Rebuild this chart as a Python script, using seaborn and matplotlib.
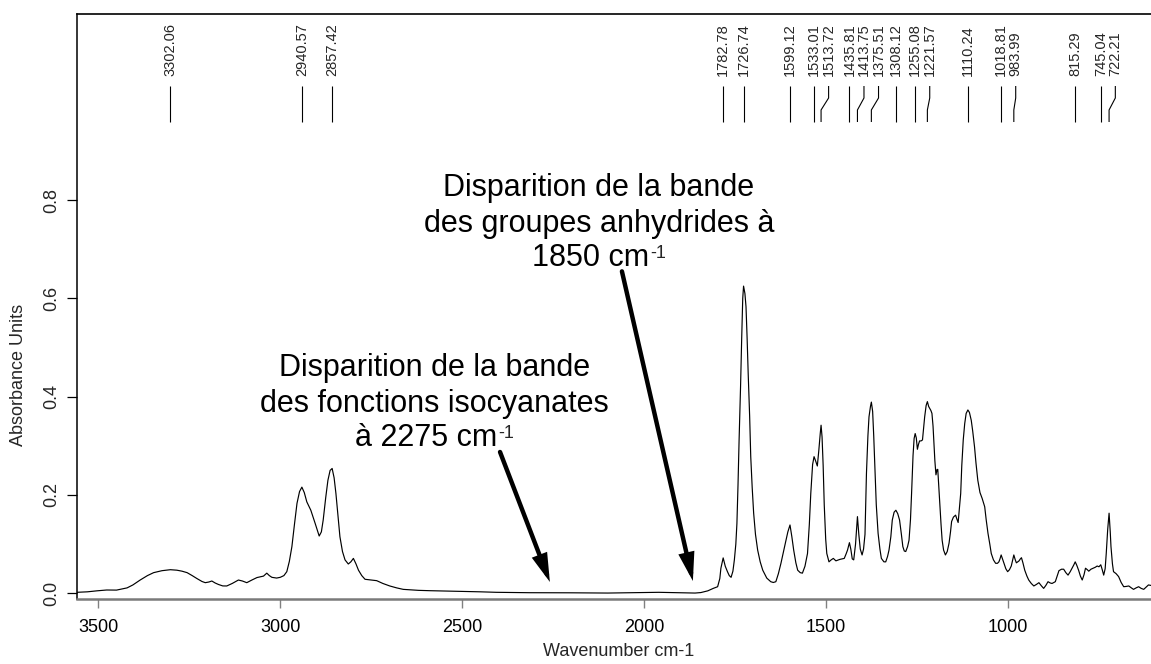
import numpy as np
import pandas as pd
import matplotlib
matplotlib.use("Agg")
import matplotlib.pyplot as plt
import seaborn as sns
from matplotlib.transforms import blended_transform_factory

# FTIR spectrum (wavenumber in cm-1, absorbance units), high to low wavenumber
wavenumber = [
    3559, 3530, 3504, 3477, 3450, 3421, 3405, 3385, 3365, 3348, 3325, 3302.06,
    3284, 3270, 3256, 3242, 3229, 3215, 3206, 3196, 3188, 3179, 3170, 3158,
    3147, 3132, 3115, 3104, 3092, 3078, 3064, 3052, 3046, 3037, 3030, 3023,
    3010, 3000, 2990, 2982, 2975, 2968, 2961, 2954, 2947, 2940.57, 2934, 2927,
    2916, 2904, 2893, 2887, 2882, 2875, 2869, 2863, 2857.42, 2852, 2847, 2841,
    2836, 2829, 2822, 2813, 2806, 2799, 2792, 2785, 2776, 2767, 2750, 2735,
    2718, 2699, 2680, 2662, 2620, 2589, 2540, 2497, 2450, 2406, 2314, 2200,
    2100, 2014, 1960, 1900, 1860, 1844, 1825, 1810, 1798, 1792, 1789, 1782.78,
    1777, 1771, 1766, 1761, 1756, 1752, 1748, 1745, 1742, 1739, 1735, 1732,
    1729, 1726.74, 1723, 1720, 1717, 1714, 1710, 1707, 1703, 1699, 1694, 1688,
    1681, 1674, 1663, 1652, 1645, 1638, 1631, 1624, 1617, 1611, 1605, 1599.12,
    1594, 1589, 1583, 1578, 1571, 1565, 1558, 1551, 1546, 1542, 1537, 1533.01,
    1529, 1524, 1520, 1516, 1513.72, 1511, 1508, 1505, 1501, 1498, 1492, 1486,
    1480, 1473, 1462, 1450, 1445, 1441, 1435.81, 1432, 1428, 1424, 1419,
    1413.75, 1410, 1406, 1401, 1397, 1393, 1389, 1385, 1382, 1378, 1375.51,
    1372, 1369, 1366, 1362, 1357, 1352, 1348, 1341, 1336, 1331, 1327, 1322,
    1318, 1313, 1308.12, 1303, 1298, 1293, 1289, 1285, 1281, 1276, 1272, 1268,
    1265, 1261, 1258, 1255.08, 1252, 1249, 1246, 1243, 1239, 1235, 1232, 1229,
    1225, 1221.57, 1218, 1215, 1212, 1209, 1206, 1204, 1201, 1198, 1195, 1193,
    1190, 1187, 1184, 1181, 1177, 1172, 1167, 1162, 1158, 1155, 1150, 1144,
    1140, 1137, 1134, 1130, 1127, 1123, 1119, 1115, 1110.24, 1106, 1101, 1097,
    1092, 1088, 1083, 1077, 1071, 1064, 1060, 1055, 1050, 1046, 1040, 1034,
    1029, 1025, 1022, 1018.81, 1015, 1011, 1006, 1001, 996, 991, 987, 983.99,
    980, 977, 973, 970, 966, 963, 959, 954, 948, 943, 936, 929, 922, 915, 908,
    902, 896, 890, 884, 879, 874, 870, 865, 860, 853, 847, 841, 835, 829, 824,
    819, 815.29, 811, 806, 801, 796, 791, 787, 782, 778, 772, 766, 760, 755,
    750, 745.04, 741, 737, 733, 730, 726, 722.21, 719, 717, 713, 710, 703, 696,
    689, 682, 675, 668, 661, 655, 648, 641, 634, 627, 620, 614, 607,
]
absorbance = [
    0.002, 0.003, 0.005, 0.0067, 0.0065, 0.011, 0.017, 0.027, 0.036, 0.042, 0.046, 0.048,
    0.047, 0.045, 0.042, 0.036, 0.030, 0.024, 0.0216, 0.023, 0.025, 0.021, 0.018, 0.015,
    0.0149, 0.020, 0.027, 0.025, 0.0216, 0.027, 0.032, 0.034, 0.035, 0.041, 0.036, 0.0325,
    0.031, 0.0325, 0.036, 0.044, 0.065, 0.095, 0.140, 0.183, 0.207, 0.216, 0.205, 0.186,
    0.169, 0.142, 0.1165, 0.125, 0.149, 0.195, 0.230, 0.250, 0.254, 0.235, 0.203, 0.155,
    0.115, 0.085, 0.068, 0.0596, 0.064, 0.071, 0.060, 0.047, 0.036, 0.0285, 0.027, 0.0257,
    0.020, 0.0149, 0.011, 0.008, 0.006, 0.0053, 0.0045, 0.004, 0.003, 0.002, 0.0012, 0.001,
    0.0005, 0.0015, 0.002, 0.001, 0.0005, 0.0015, 0.005, 0.010, 0.0134, 0.030, 0.051, 0.072,
    0.055, 0.044, 0.036, 0.0325, 0.045, 0.068, 0.100, 0.142, 0.220, 0.312, 0.420, 0.515,
    0.600, 0.625, 0.610, 0.583, 0.520, 0.447, 0.360, 0.278, 0.215, 0.163, 0.120, 0.088,
    0.064, 0.047, 0.031, 0.0236, 0.022, 0.0236, 0.040, 0.061, 0.085, 0.105, 0.125, 0.139,
    0.115, 0.088, 0.062, 0.047, 0.042, 0.041, 0.055, 0.081, 0.140, 0.203, 0.262, 0.278,
    0.270, 0.259, 0.290, 0.325, 0.342, 0.318, 0.260, 0.180, 0.110, 0.081, 0.064, 0.068,
    0.071, 0.066, 0.069, 0.071, 0.080, 0.088, 0.103, 0.090, 0.070, 0.068, 0.100,
    0.156, 0.120, 0.090, 0.078, 0.090, 0.120, 0.244, 0.320, 0.359, 0.380, 0.389,
    0.370, 0.320, 0.260, 0.180, 0.122, 0.090, 0.071, 0.064, 0.064, 0.075, 0.088, 0.115,
    0.149, 0.165, 0.169, 0.162, 0.149, 0.120, 0.095, 0.086, 0.085, 0.095, 0.108, 0.150,
    0.203, 0.280, 0.315, 0.325, 0.316, 0.293, 0.303, 0.310, 0.310, 0.312, 0.335, 0.359,
    0.382, 0.390, 0.380, 0.376, 0.372, 0.366, 0.340, 0.312, 0.270, 0.241, 0.252, 0.252,
    0.215, 0.176, 0.140, 0.108, 0.088, 0.078, 0.085, 0.102, 0.125, 0.146, 0.155, 0.159,
    0.150, 0.144, 0.170, 0.203, 0.260, 0.312, 0.345, 0.366, 0.373, 0.368, 0.352, 0.330,
    0.298, 0.265, 0.230, 0.205, 0.193, 0.176, 0.150, 0.122, 0.100, 0.081, 0.068, 0.061,
    0.061, 0.064, 0.070, 0.078, 0.070, 0.061, 0.050, 0.044, 0.048, 0.0555, 0.068, 0.078,
    0.068, 0.062, 0.064, 0.0657, 0.070, 0.0724, 0.062, 0.047, 0.035, 0.027, 0.020, 0.0149, 0.018, 0.0216, 0.015,
    0.010, 0.016, 0.0236, 0.021, 0.020, 0.022, 0.0236, 0.035, 0.046, 0.049, 0.049, 0.042, 0.037, 0.044, 0.051,
    0.058, 0.064, 0.057, 0.047, 0.035, 0.027, 0.038, 0.051, 0.048, 0.045, 0.049, 0.051, 0.053, 0.0555,
    0.054, 0.058, 0.048, 0.037, 0.050, 0.081, 0.130, 0.163, 0.125, 0.095, 0.060, 0.044, 0.040, 0.034,
    0.022, 0.0134, 0.014, 0.0149, 0.011, 0.008, 0.011, 0.0134, 0.010, 0.008, 0.013, 0.017, 0.016,
]

# Peak positions picked on the spectrum (cm-1)
peak_positions = [3302.06, 2940.57, 2857.42, 1782.78, 1726.74, 1599.12, 1533.01,
                  1513.72, 1435.81, 1413.75, 1375.51, 1308.12, 1255.08, 1221.57,
                  1110.24, 1018.81, 983.99, 815.29, 745.04, 722.21]

x_ticks = [3500, 3000, 2500, 2000, 1500, 1000]
y_ticks = [0.0, 0.2, 0.4, 0.6, 0.8]

sns.set_theme(style="ticks")
plt.rcParams["font.family"] = ["Liberation Sans", "DejaVu Sans"]

fig = plt.figure(figsize=(11.51, 6.64), dpi=100)
ax = fig.add_axes([0.06664, 0.09834, 0.93336, 0.88012])

df = pd.DataFrame({"wavenumber": wavenumber, "absorbance": absorbance})
sns.lineplot(data=df, x="wavenumber", y="absorbance", ax=ax, color="black",
             linewidth=0.85, estimator=None, sort=False)

# Peak labels, spread apart where neighbours are too close
label_pos = []
min_gap = 40.0
for w in peak_positions:
    if label_pos and label_pos[-1] - w < min_gap:
        label_pos.append(label_pos[-1] - min_gap)
    else:
        label_pos.append(w)

trans = blended_transform_factory(ax.transData, ax.transAxes)
for w, lp in zip(peak_positions, label_pos):
    ax.text(lp, 0.8944, f"{w:.2f}", rotation=90, ha="center", va="bottom",
            fontsize=10.5, transform=trans)
    ax.plot([lp, lp, w, w], [0.8773, 0.8568, 0.8363, 0.8157], color="black",
            lw=0.8, transform=trans, solid_capstyle="butt")

# Annotations
txt_kw = dict(ha="center", va="baseline", fontsize=22, color="black")
ax.text(2124, 0.808, "Disparition de la bande", **txt_kw)
ax.text(2124, 0.735, "des groupes anhydrides à", **txt_kw)
t1 = ax.text(2146, 0.666, "1850 cm", **txt_kw)
ax.annotate("-1", xy=(1.0, 1.0), xycoords=t1, xytext=(0.5, -1.5),
            textcoords="offset points", ha="left", va="top", fontsize=13)

ax.text(2577, 0.442, "Disparition de la bande", **txt_kw)
ax.text(2577, 0.368, "des fonctions isocyanates", **txt_kw)
t2 = ax.text(2599, 0.2996, "à 2275 cm", **txt_kw)
ax.annotate("-1", xy=(1.0, 1.0), xycoords=t2, xytext=(0.5, -1.5),
            textcoords="offset points", ha="left", va="top", fontsize=13)

arrow_kw = dict(arrowstyle="-|>,head_length=1.35,head_width=0.38", color="black",
                lw=3.2, shrinkA=0, shrinkB=0, mutation_scale=10, joinstyle="miter")
ax.annotate("", xy=(1866, 0.025), xytext=(2061, 0.655), arrowprops=arrow_kw)
ax.annotate("", xy=(2259, 0.023), xytext=(2396, 0.2875), arrowprops=arrow_kw)

# Axes styling
ax.set_xlim(3559.4, 607)
ax.set_ylim(-0.011, 1.178)
ax.set_xticks(x_ticks)
ax.set_xticklabels([str(t) for t in x_ticks])
ax.set_yticks(y_ticks)
ax.set_yticklabels([f"{t:.1f}" for t in y_ticks])
ax.tick_params(axis="x", length=6.8, width=1.0, color="#808080", labelsize=13,
               pad=8, labelcolor="black")
ax.tick_params(axis="y", length=7.2, width=0.9, color="black", labelsize=13,
               pad=5, labelrotation=90)
for lab in ax.get_yticklabels():
    lab.set_va("center")

ax.spines["right"].set_visible(False)
ax.spines["left"].set_color("black")
ax.spines["left"].set_linewidth(1.1)
ax.spines["top"].set_color("black")
ax.spines["top"].set_linewidth(1.2)
ax.spines["bottom"].set_color("#7a7a7a")
ax.spines["bottom"].set_linewidth(1.8)

ax.set_xlabel("Wavenumber cm-1", fontsize=13)
ax.xaxis.set_label_coords(0.504, -0.0895)
ax.xaxis.label.set_va("center")
ax.set_ylabel("Absorbance Units", fontsize=13)
ax.yaxis.set_label_coords(-0.0546, 0.383)
ax.yaxis.label.set_va("center")

fig.savefig("out.png", dpi=100, facecolor="white")
